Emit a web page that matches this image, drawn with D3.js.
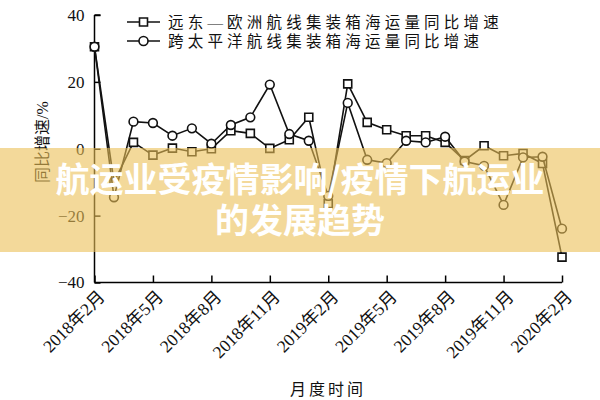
<!DOCTYPE html>
<html>
<head>
<meta charset="utf-8">
<script src="https://cdn.jsdelivr.net/npm/d3@7"></script>
<style>
  body { margin: 0; background: #fff; }
  svg { display: block; }
  text { font-family: "Liberation Serif", "Noto Sans CJK SC", serif; fill: #111; }
</style>
</head>
<body>
<div id="chart"></div>
<script>
// monthly data, 2018-02 .. 2020-02
const months = ['2018年2月', '2018年3月', '2018年4月', '2018年5月', '2018年6月', '2018年7月', '2018年8月',
  '2018年9月', '2018年10月', '2018年11月', '2018年12月', '2019年1月', '2019年2月', '2019年3月',
  '2019年4月', '2019年5月', '2019年6月', '2019年7月', '2019年8月', '2019年9月', '2019年10月',
  '2019年11月', '2019年12月', '2020年1月', '2020年2月'];
const euroSeries = [30.5, -10, 1.9, -1.9, 0.2, -0.9, 0, 5.4, 4.6, 0.1, 2.7, 9.4, -16.4, 19.4,
  7.9, 5.7, 3.9, 3.9, 1.9, -3.5, 0.9, -2.1, -1.4, -4.4, -32.4];
const pacificSeries = [30.5, -14.5, 8.1, 7.7, 3.9, 6.1, 1.5, 7.1, 9.4, 19.2, 4.4, 2.4, -14.1, 13.7,
  -3.3, -4.3, 2.4, 1.9, 3.6, -3.8, -5.1, -16.8, -2.6, -2.4, -23.9];
const seriesNames = ['远东—欧洲航线集装箱海运量同比增速', '跨太平洋航线集装箱海运量同比增速'];
const yTicks = [-40, -20, 0, 20, 40];
const xTickMonths = ['2018年2月', '2018年5月', '2018年8月', '2018年11月', '2019年2月',
  '2019年5月', '2019年8月', '2019年11月', '2020年2月'];
const bannerLines = ['航运业受疫情影响/疫情下航运业', '的发展趋势'];

const width = 600, height = 400;
const svg = d3.select('#chart').append('svg')
  .attr('width', width)
  .attr('height', height);

const x = d3.scalePoint().domain(months).range([94.5, 562]);
const y = d3.scaleLinear().domain([-40, 40]).range([282.5, 15]);

// axes (ticks pointing inward)
const fmt = d3.format('d');
svg.append('g')
  .attr('transform', `translate(${x(months[0])},0)`)
  .call(d3.axisLeft(y).tickValues(yTicks).tickSize(-6).tickPadding(10).tickFormat(fmt))
  .call(g => g.select('.domain').attr('d', `M0,${y(40)}H6M0,${y(40)}V${y(-40)}`))
  .call(g => g.selectAll('line').attr('stroke-width', 1.5))
  .call(g => g.select('.domain').attr('stroke-width', 1.5))
  .call(g => g.selectAll('text').style('font-size', '17px'));

svg.append('g')
  .attr('transform', `translate(0,${y(-40)})`)
  .call(d3.axisBottom(x).tickValues(xTickMonths).tickSize(-7).tickFormat(''))
  .call(g => g.select('.domain').attr('d', `M${x(months[0])},0H${x(months[24])}`).attr('stroke-width', 1.5))
  .call(g => g.selectAll('line').attr('stroke-width', 1.5));

svg.append('g').selectAll('text')
  .data(xTickMonths)
  .enter().append('text')
  .attr('transform', d => `translate(${x(d) + 7},${y(-40) + 11}) rotate(-45)`)
  .attr('text-anchor', 'end')
  .attr('dy', '0.35em')
  .style('font-size', '17.5px')
  .text(d => d);

// axis titles
svg.append('text')
  .attr('x', 328).attr('y', 395)
  .attr('text-anchor', 'middle')
  .style('font-size', '16px')
  .style('letter-spacing', '3px')
  .text('月度时间');

svg.append('text')
  .attr('transform', 'translate(42,142) rotate(-90)')
  .attr('text-anchor', 'middle')
  .attr('dy', '0.35em')
  .style('font-size', '16px')
  .text('同比增速/%');

// lines + markers
const line = d3.line().x((d, i) => x(months[i])).y(d => y(d));

function drawSeries(values, shape) {
  svg.append('path')
    .datum(values)
    .attr('d', line)
    .attr('fill', 'none')
    .attr('stroke', '#111')
    .attr('stroke-width', 1.6);
  const sym = d3.symbol().type(shape === 'square' ? d3.symbolSquare : d3.symbolCircle)
    .size(shape === 'square' ? 64 : 60);
  svg.append('g').selectAll('path')
    .data(values)
    .enter().append('path')
    .attr('d', sym)
    .attr('transform', (d, i) => `translate(${x(months[i])},${y(d)})`)
    .attr('fill', '#fff')
    .attr('stroke', '#111')
    .attr('stroke-width', 1.6);
}
drawSeries(euroSeries, 'square');
drawSeries(pacificSeries, 'circle');

// legend
const legend = svg.append('g');
seriesNames.forEach((name, i) => {
  const ly = 22 + i * 19;
  legend.append('line')
    .attr('x1', 127).attr('x2', 160).attr('y1', ly).attr('y2', ly)
    .attr('stroke', '#111').attr('stroke-width', 1.6);
  legend.append('path')
    .attr('d', d3.symbol().type(i === 0 ? d3.symbolSquare : d3.symbolCircle).size(64))
    .attr('transform', `translate(143.5,${ly})`)
    .attr('fill', '#fff').attr('stroke', '#111').attr('stroke-width', 1.6);
  legend.append('text')
    .attr('x', 168).attr('y', ly)
    .attr('dy', '0.36em')
    .style('font-size', '15.5px')
    .style('letter-spacing', '4.2px')
    .text(name);
});

// banner overlay
svg.append('rect')
  .attr('x', 0).attr('y', 148).attr('width', width).attr('height', 104)
  .attr('fill', 'rgb(235,192,87)')
  .attr('fill-opacity', 0.6);

svg.append('g').selectAll('text')
  .data(bannerLines)
  .enter().append('text')
  .attr('x', 300)
  .attr('y', (d, i) => 180 + i * 41)
  .attr('text-anchor', 'middle')
  .attr('dy', '0.36em')
  .style('font-family', '"Noto Sans CJK SC", sans-serif')
  .style('font-weight', 'bold')
  .style('font-size', '34px')
  .style('fill', '#fff')
  .text(d => d);
</script>
</body>
</html>
